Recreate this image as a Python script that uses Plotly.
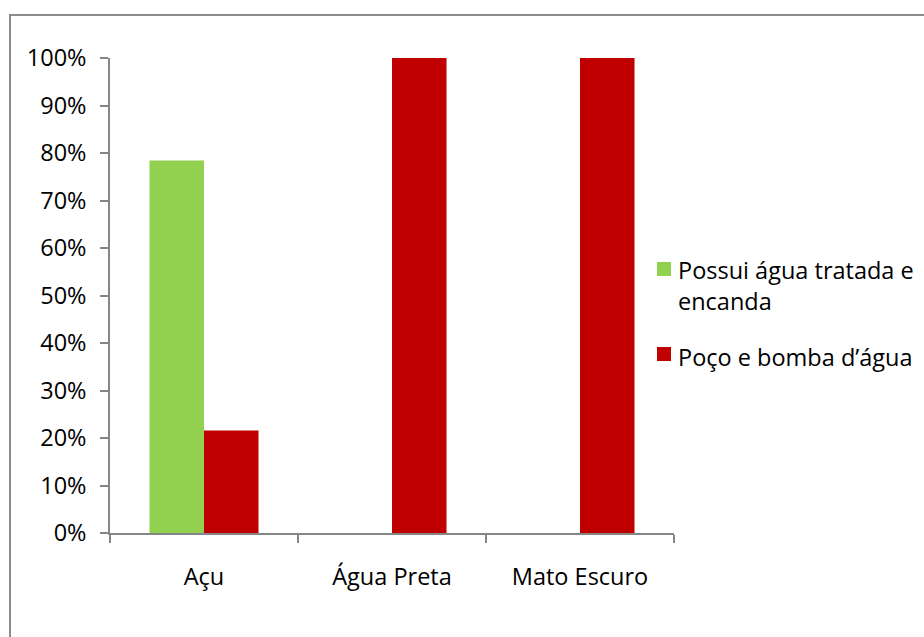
import plotly.graph_objects as go

# Categories and shares per community
categories = ["Açu", "Água Preta", "Mato Escuro"]
tratada = [0.784, 0.0, 0.0]
poco = [0.216, 1.0, 1.0]
series_names = ["Possui água tratada e", "Poço e bomba d’água"]
name_continuation = "encanda"
series_colors = ["#92D050", "#C00000"]
y_ticks = [i / 10 for i in range(11)]

W, H = 924, 637
ML, MR, MT, MB = 110, 250, 58, 104
PW, PH = W - ML - MR, H - MT - MB

FONT = "Open Sans"
FS = 23.5
AXIS_GRAY = "#868686"

fig = go.Figure()
fig.add_trace(go.Bar(
    x=categories, y=tratada, name=series_names[0] + " " + name_continuation,
    marker=dict(color=series_colors[0], line=dict(width=0)),
    showlegend=False,
))
fig.add_trace(go.Bar(
    x=categories, y=poco, name=series_names[1],
    marker=dict(color=series_colors[1], line=dict(width=0)),
    showlegend=False,
))


def px_x(px):
    return (px - ML) / PW


def px_y(py):
    return (H - MB - py) / PH


# Legend drawn to the right of the plot: colour swatch plus wrapped label
shapes = [dict(
    type="rect", xref="paper", yref="paper",
    x0=px_x(10), x1=px_x(960), y0=px_y(680), y1=px_y(15),
    line=dict(color="#8c8c8c", width=2), fillcolor="rgba(0,0,0,0)",
    layer="below",
)]
annotations = []
legend_rows = [
    (series_colors[0], 269, [(series_names[0], 270), (name_continuation, 301)]),
    (series_colors[1], 354, [(series_names[1], 357)]),
]
for color, sq_center, lines in legend_rows:
    shapes.append(dict(
        type="rect", xref="paper", yref="paper",
        x0=px_x(657), x1=px_x(671), y0=px_y(sq_center + 7), y1=px_y(sq_center - 7),
        line=dict(width=0), fillcolor=color,
    ))
    for text, yc in lines:
        annotations.append(dict(
            text=text, xref="paper", yref="paper",
            x=px_x(676), y=px_y(yc), xanchor="left", yanchor="middle",
            showarrow=False, align="left",
            font=dict(family=FONT, size=FS, color="black"),
        ))

fig.update_layout(
    width=W, height=H,
    margin=dict(l=ML, r=MR, t=MT, b=MB),
    paper_bgcolor="white", plot_bgcolor="white",
    barmode="group", bargap=0.42, bargroupgap=0,
    font=dict(family=FONT, size=FS, color="black"),
    showlegend=False,
    xaxis=dict(
        type="category", tickson="boundaries",
        ticks="outside", ticklen=8, tickwidth=1.5, tickcolor=AXIS_GRAY,
        showline=True, linecolor=AXIS_GRAY, linewidth=1.5,
        showgrid=False, zeroline=False,
        ticklabelstandoff=22,
    ),
    yaxis=dict(
        range=[0, 1], tickvals=y_ticks, tickformat=".0%",
        ticks="outside", ticklen=8, tickwidth=1.5, tickcolor=AXIS_GRAY,
        showline=True, linecolor=AXIS_GRAY, linewidth=1.5,
        showgrid=False, zeroline=False,
        ticklabelstandoff=9,
    ),
    shapes=shapes,
    annotations=annotations,
)

fig.write_html("out.html")
